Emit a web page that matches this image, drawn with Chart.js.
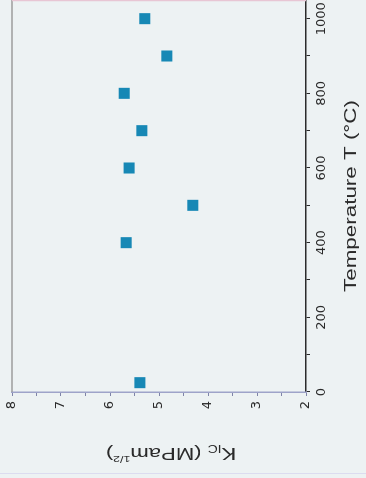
<!DOCTYPE html>
<html lang="en">
<head>
    <meta charset="UTF-8">
    <title>K_IC vs Temperature</title>
    <script src="https://cdn.jsdelivr.net/npm/chart.js"></script>
    <style>
        body {
            margin: 0;
            background-color: #edf2f3;
            overflow: hidden;
        }
        .wrap {
            position: relative;
            width: 366px;
            height: 478px;
        }
        /* the figure is printed sideways, so draw it upright and turn it */
        #kicChart {
            position: absolute;
            left: 0;
            top: 0;
            transform-origin: 0 0;
            transform: translateY(478px) rotate(-90deg);
        }
    </style>
</head>
<body>
    <div class="wrap">
        <canvas id="kicChart" width="478" height="366"></canvas>
    </div>

    <script>
        // Data
        const temperatures = [25, 400, 500, 600, 700, 800, 900, 1000];
        const kicValues = [5.39, 5.67, 4.31, 5.61, 5.35, 5.71, 4.84, 5.29];

        // Axis ticks
        const tempMajorTicks = [0, 200, 400, 600, 800, 1000];
        const tempMinorTicks = [100, 300, 500, 700, 900];
        const kicMajorTicks = [2, 3, 4, 5, 6, 7, 8];
        const kicMinorTicks = [2.5, 3.5, 4.5, 5.5, 6.5, 7.5];

        const textColor = '#2a2a2a';
        const tickFont = { family: 'DejaVu Sans', size: 13 };

        // Titles are drawn by hand: the print uses a wide face and a sub/superscript
        const titlesPlugin = {
            id: 'titles',
            afterDraw(chart) {
                const ctx = chart.ctx;
                const area = chart.chartArea;
                ctx.save();
                ctx.fillStyle = textColor;

                // frame lines
                ctx.lineWidth = 1.5;
                ctx.strokeStyle = '#9c9c9c';
                ctx.beginPath();
                ctx.moveTo(area.left, area.top);
                ctx.lineTo(area.right, area.top);
                ctx.stroke();
                ctx.strokeStyle = '#e8c6d4';
                ctx.beginPath();
                ctx.moveTo(area.right - 0.5, area.top);
                ctx.lineTo(area.right - 0.5, area.bottom);
                ctx.stroke();
                ctx.lineWidth = 1;
                ctx.strokeStyle = '#dcdcef';
                ctx.beginPath();
                ctx.moveTo(4.5, 0);
                ctx.lineTo(4.5, chart.height);
                ctx.stroke();

                // x title
                ctx.save();
                ctx.translate((area.left + area.right) / 2, 352);
                ctx.scale(1.4, 1);
                ctx.font = '16px "Liberation Sans", Arial, sans-serif';
                ctx.textAlign = 'center';
                ctx.textBaseline = 'middle';
                ctx.fillText('Temperature T (\u00B0C)', 0, 0);
                ctx.restore();

                // y title, rotated
                ctx.save();
                ctx.translate(26, 171);
                ctx.rotate(-Math.PI / 2);
                ctx.scale(1.38, 1);
                ctx.textBaseline = 'middle';
                const parts = [
                    { t: 'K', size: 16, dy: 0 },
                    { t: 'IC', size: 10, dy: 4 },
                    { t: ' (MPam', size: 16, dy: 0 },
                    { t: '1/2', size: 9, dy: -6 },
                    { t: ')', size: 16, dy: 0 }
                ];
                let total = 0;
                parts.forEach(p => {
                    ctx.font = p.size + 'px "Liberation Sans", Arial, sans-serif';
                    p.w = ctx.measureText(p.t).width;
                    total += p.w;
                });
                let x = -total / 2;
                ctx.textAlign = 'left';
                parts.forEach(p => {
                    ctx.font = p.size + 'px "Liberation Sans", Arial, sans-serif';
                    ctx.fillText(p.t, x, p.dy);
                    x += p.w;
                });
                ctx.restore();

                ctx.restore();
            }
        };

        const ctx = document.getElementById('kicChart').getContext('2d');
        const kicChart = new Chart(ctx, {
            type: 'scatter',
            data: {
                datasets: [{
                    label: 'KIC',
                    data: temperatures.map((t, i) => ({ x: t, y: kicValues[i] })),
                    pointStyle: 'rect',
                    pointRadius: 7.8,
                    backgroundColor: '#1788b5',
                    borderWidth: 0
                }]
            },
            options: {
                responsive: false,
                devicePixelRatio: 1,
                animation: false,
                layout: {
                    autoPadding: false,
                    padding: { top: 12, right: 0, left: 0, bottom: 0 }
                },
                scales: {
                    x: {
                        type: 'linear',
                        min: 0,
                        max: 1050,
                        afterBuildTicks: (scale) => {
                            scale.ticks = tempMajorTicks.concat(tempMinorTicks)
                                .sort((a, b) => a - b)
                                .map(v => ({ value: v }));
                        },
                        afterFit: (scale) => {
                            scale.height = 60;
                            scale.paddingLeft = 0;
                            scale.paddingRight = 0;
                        },
                        border: { color: '#2b2b2b', width: 1.5 },
                        grid: {
                            drawOnChartArea: false,
                            tickLength: 4,
                            color: '#2b2b2b'
                        },
                        ticks: {
                            autoSkip: false,
                            maxRotation: 0,
                            padding: 4,
                            color: textColor,
                            font: tickFont,
                            callback: (v) => tempMajorTicks.includes(v) ? String(v) : ''
                        }
                    },
                    y: {
                        type: 'linear',
                        min: 2,
                        max: 8,
                        afterBuildTicks: (scale) => {
                            scale.ticks = kicMajorTicks.concat(kicMinorTicks)
                                .sort((a, b) => a - b)
                                .map(v => ({ value: v }));
                        },
                        afterFit: (scale) => {
                            scale.width = 86;
                            scale.paddingTop = 0;
                            scale.paddingBottom = 0;
                        },
                        border: { color: '#9ea3c9', width: 1.5 },
                        grid: {
                            drawOnChartArea: false,
                            tickLength: 4,
                            color: '#7f84a8'
                        },
                        ticks: {
                            autoSkip: false,
                            padding: 5,
                            color: textColor,
                            font: tickFont,
                            callback: (v) => kicMajorTicks.includes(v) ? String(v) : ''
                        }
                    }
                },
                plugins: {
                    legend: { display: false },
                    tooltip: { enabled: false }
                }
            },
            plugins: [titlesPlugin]
        });
    </script>
</body>
</html>
